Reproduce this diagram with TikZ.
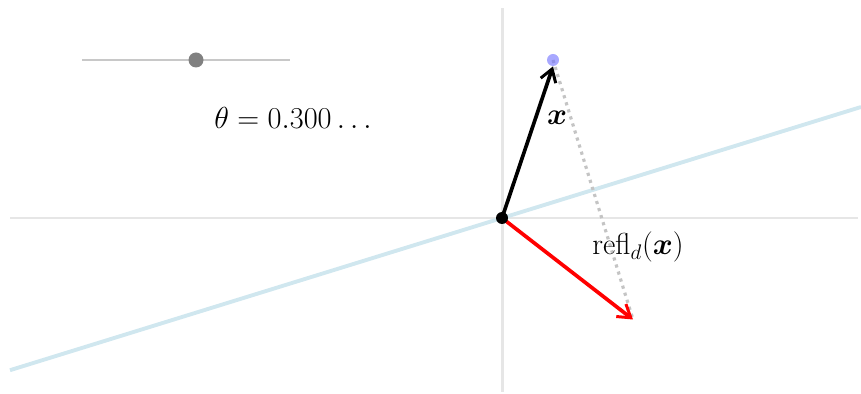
\documentclass[tikz,border=0pt]{standalone}
\usepackage{amsmath,amssymb,bm}
\usetikzlibrary{arrows.meta}

\definecolor{axisgray}{RGB}{230,230,230}
\definecolor{lineblue}{RGB}{208,231,239}
\definecolor{dotgray}{RGB}{196,196,196}
\definecolor{pointblue}{RGB}{110,110,255}
\definecolor{slidergray}{RGB}{200,200,200}
\definecolor{knobgray}{RGB}{128,128,128}

\tikzset{
  axis/.style={draw=axisgray, line width=1.7pt},
  vec/.style={line width=2.1pt, -{Straight Barb[length=7pt, width=9pt, line width=1.7pt]}},
  lbl/.style={font=\LARGE, inner sep=1pt}
}

\begin{document}
\begin{tikzpicture}[x=0.02cm, y=-0.02cm]
  \useasboundingbox (0,0) rectangle (861,394);

  % Axes
  \coordinate (axL) at (10,218);
  \coordinate (axR) at (858,218);
  \coordinate (axT) at (502,8);
  \coordinate (axB) at (502,392);
  \draw[axis] (axL) -- (axR);
  \draw[axis] (axT) -- (axB);

  % Line d through the origin
  \coordinate (dL) at (10,370.2);
  \coordinate (dR) at (861,107);
  \draw[draw=lineblue, line width=2.2pt] (dL) -- (dR);

  % Points
  \node[circle, inner sep=0pt, minimum size=0.24cm] (O) at (502,218) {};
  \node[circle, inner sep=0pt, minimum size=0.24cm] (xpt) at (553,60) {};
  \coordinate (rpt) at (633,319.5);

  % Dotted segment between x and its reflection
  \draw[draw=dotgray, line width=1.8pt, dash pattern=on 1.8pt off 2.4pt] (xpt.center) -- (rpt);

  % Vectors
  \draw[vec, draw=black] (O.center) -- (xpt.south);
  \draw[vec, draw=red] (O.center) -- (rpt);

  \fill[black] (O) circle (0.12cm);
  \fill[pointblue, opacity=0.6] (xpt) circle (0.12cm);

  % Labels
  \node[lbl] (xlbl) at (557,118) {$\boldsymbol{x}$};
  \node[lbl] (rlbl) at (638,247) {$\mathrm{refl}_d(\boldsymbol{x})$};

  % Slider
  \coordinate (slL) at (82,60);
  \coordinate (slR) at (290,60);
  \draw[draw=slidergray, line width=1pt] (slL) -- (slR);
  \node[circle, fill=knobgray, inner sep=0pt, minimum size=0.3cm] (knob) at (196,60) {};
  \node[lbl] (theta) at (293,118) {$\theta = 0.300\ldots$};
\end{tikzpicture}
\end{document}
